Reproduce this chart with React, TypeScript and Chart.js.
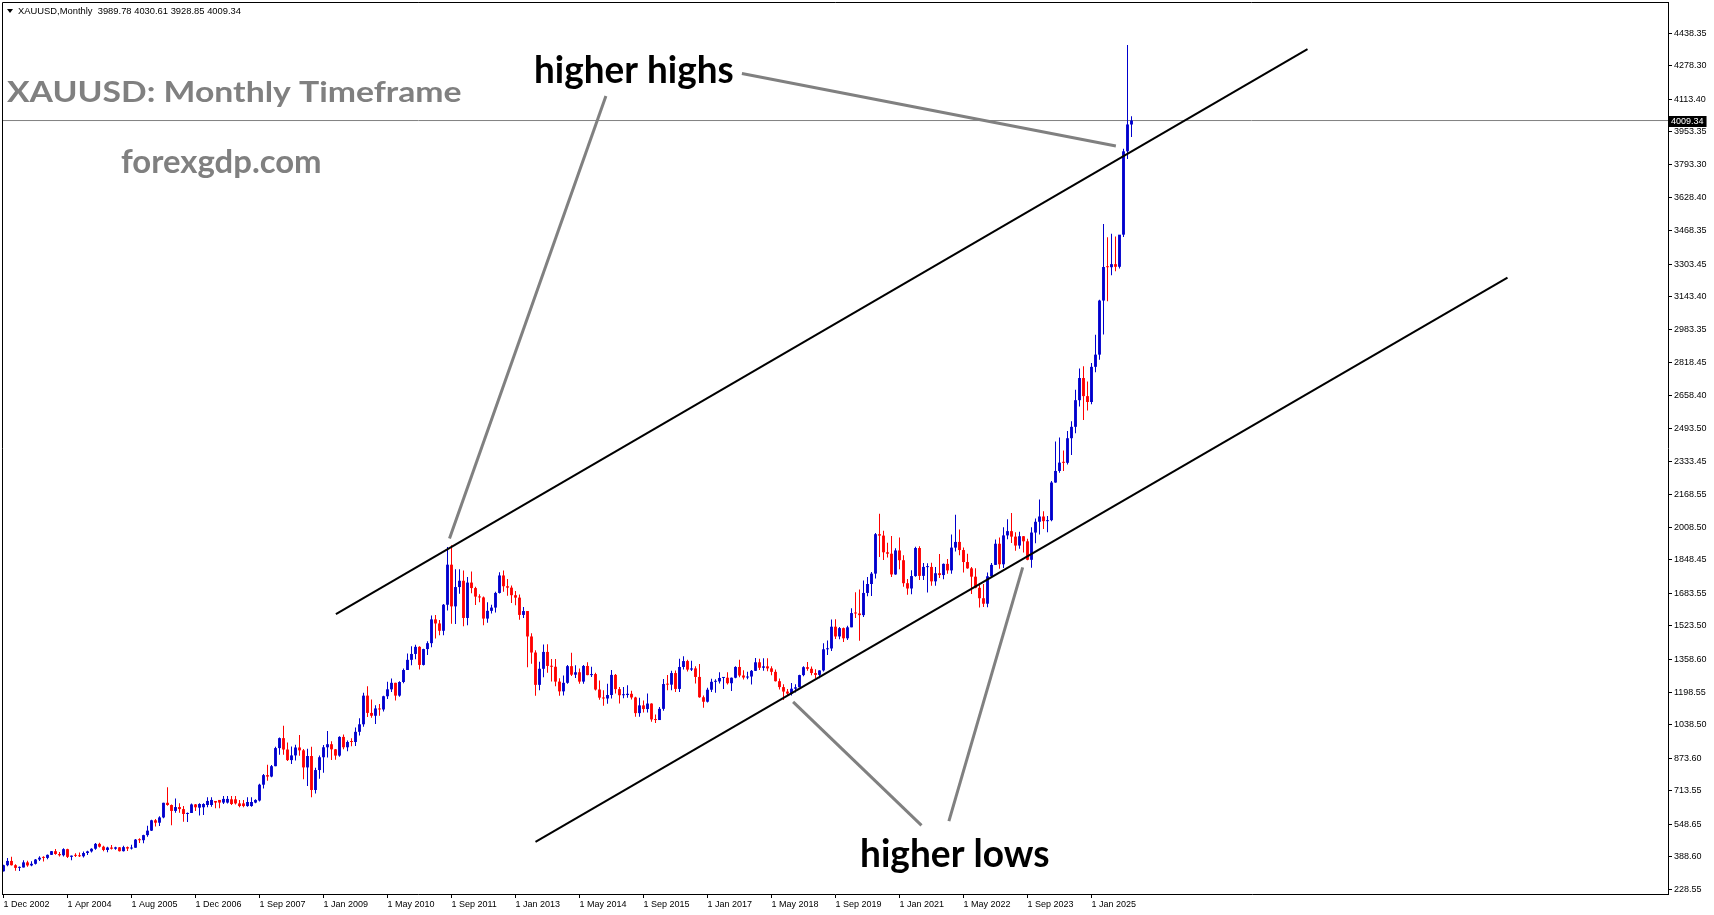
import React, { useEffect, useRef } from "react";
import { Chart, registerables } from "chart.js";

Chart.register(...registerables);

// ---- tick labels (one every 16 bars) ----
const xTickLabels = [
  "1 Dec 2002", "1 Apr 2004", "1 Aug 2005", "1 Dec 2006", "1 Sep 2007", "1 Jan 2009",
  "1 May 2010", "1 Sep 2011", "1 Jan 2013", "1 May 2014", "1 Sep 2015", "1 Jan 2017",
  "1 May 2018", "1 Sep 2019", "1 Jan 2021", "1 May 2022", "1 Sep 2023", "1 Jan 2025",
];
const barsPerLabel = 16;

const yTickValues = [
  228.55, 388.6, 548.65, 713.55, 873.6, 1038.5, 1198.55, 1358.6, 1523.5, 1683.55, 1848.45,
  2008.5, 2168.55, 2333.45, 2493.5, 2658.4, 2818.45, 2983.35, 3143.4, 3303.45, 3468.35,
  3628.4, 3793.3, 3953.35, 4113.4, 4278.3, 4438.35,
];

// ---- monthly candles (bar index 0 = Dec 2002) ----
const barOpen = [
  317, 347, 368, 347, 334, 336, 361, 346, 354, 375,
  386, 383, 398, 416, 402, 396, 426, 388, 395, 393,
  391, 407, 415, 428, 452, 438, 422, 434, 428, 435,
  416, 436, 429, 433, 473, 470, 495, 517, 568, 556,
  582, 654, 643, 614, 633, 623, 599, 604, 646, 630,
  632, 643, 643, 663, 668, 655, 655, 671, 671, 651,
  651, 638, 638, 655, 665, 743, 790, 783, 834, 923,
  972, 916, 864, 887, 926, 912, 828, 884, 717, 815,
  878, 927, 942, 917, 886, 978, 927, 955, 953, 1003,
  1040, 1181, 1096, 1082, 1118, 1113, 1178, 1212, 1244, 1181,
  1248, 1307, 1357, 1386, 1421, 1332, 1410, 1439, 1556, 1536,
  1500, 1628, 1825, 1620, 1715, 1746, 1563, 1737, 1710, 1668,
  1664, 1560, 1598, 1614, 1686, 1772, 1719, 1712, 1675, 1663,
  1578, 1597, 1472, 1393, 1234, 1313, 1396, 1327, 1323, 1250,
  1202, 1244, 1326, 1284, 1296, 1250, 1327, 1282, 1287, 1211,
  1171, 1167, 1184, 1283, 1213, 1183, 1184, 1190, 1172, 1095,
  1133, 1115, 1142, 1064, 1061, 1116, 1238, 1235, 1292, 1214,
  1322, 1351, 1309, 1315, 1273, 1173, 1151, 1210, 1249, 1251,
  1268, 1269, 1242, 1269, 1322, 1280, 1270, 1275, 1303, 1345,
  1318, 1325, 1315, 1298, 1252, 1223, 1201, 1191, 1215, 1222,
  1282, 1321, 1313, 1292, 1283, 1305, 1409, 1413, 1520, 1472,
  1513, 1463, 1517, 1587, 1585, 1577, 1686, 1730, 1781, 1975,
  1968, 1886, 1879, 1777, 1895, 1847, 1734, 1708, 1769, 1907,
  1770, 1813, 1814, 1743, 1783, 1774, 1829, 1797, 1909, 1937,
  1897, 1838, 1807, 1766, 1711, 1660, 1633, 1768, 1824, 1928,
  1827, 1969, 1990, 1963, 1919, 1965, 1940, 1849, 1983, 2036,
  2062, 2039, 2044, 2229, 2286, 2327, 2326, 2447, 2503, 2634,
  2743, 2654, 2625, 2798, 2858, 3124, 3289, 3288, 3303, 3290,
  3448, 3858, 3989.78,
];
const barHigh = [
  349, 383, 389, 352, 341, 371, 369, 367, 378, 391,
  391, 400, 417, 427, 412, 431, 428, 395, 406, 409,
  415, 418, 430, 456, 457, 443, 438, 446, 438, 436,
  443, 439, 448, 476, 480, 497, 541, 570, 574, 588,
  654, 730, 645, 675, 652, 638, 606, 650, 648, 652,
  652, 681, 681, 663, 668, 687, 687, 687, 687, 668,
  668, 681, 681, 672, 748, 795, 841, 840, 929, 975,
  1033, 950, 931, 940, 988, 919, 920, 930, 826, 887,
  938, 1007, 957, 918, 981, 990, 960, 971, 1024, 1070,
  1195, 1227, 1162, 1134, 1140, 1180, 1249, 1265, 1244, 1252,
  1314, 1388, 1424, 1431, 1424, 1411, 1448, 1575, 1577, 1553,
  1632, 1912, 1921, 1803, 1802, 1796, 1764, 1792, 1716, 1680,
  1669, 1640, 1628, 1692, 1788, 1796, 1755, 1723, 1695, 1678,
  1617, 1597, 1488, 1404, 1348, 1433, 1434, 1361, 1361, 1267,
  1280, 1332, 1392, 1331, 1315, 1332, 1345, 1323, 1293, 1255,
  1208, 1239, 1307, 1287, 1224, 1224, 1232, 1205, 1175, 1170,
  1157, 1191, 1143, 1088, 1125, 1263, 1283, 1303, 1304, 1362,
  1375, 1357, 1352, 1326, 1337, 1182, 1220, 1264, 1262, 1296,
  1270, 1296, 1270, 1326, 1357, 1306, 1299, 1307, 1366, 1362,
  1365, 1365, 1326, 1309, 1265, 1237, 1214, 1243, 1237, 1284,
  1326, 1347, 1324, 1311, 1306, 1439, 1452, 1555, 1557, 1518,
  1516, 1525, 1611, 1689, 1703, 1747, 1765, 1789, 1981, 2075,
  1992, 1933, 1966, 1906, 1959, 1871, 1755, 1798, 1913, 1916,
  1833, 1832, 1835, 1814, 1877, 1831, 1853, 1974, 2070, 1998,
  1910, 1879, 1814, 1808, 1735, 1730, 1786, 1833, 1949, 1959,
  2009, 2049, 2079, 1985, 1987, 1966, 1953, 2009, 2052, 2146,
  2088, 2065, 2236, 2431, 2450, 2387, 2483, 2531, 2685, 2790,
  2801, 2726, 2817, 2956, 3128, 3500, 3435, 3452, 3439, 3423,
  3870, 4381, 4030.61,
];
const barLow = [
  316, 342, 345, 320, 319, 336, 340, 342, 350, 368,
  365, 376, 397, 399, 390, 390, 382, 371, 387, 387,
  385, 397, 409, 423, 434, 416, 411, 424, 423, 414,
  414, 417, 424, 433, 456, 455, 487, 515, 538, 540,
  578, 640, 543, 605, 605, 561, 560, 604, 614, 591,
  594, 632, 635, 627, 627, 648, 651, 643, 646, 632,
  632, 635, 635, 652, 660, 724, 763, 779, 834, 890,
  890, 860, 845, 862, 885, 770, 736, 681, 700, 772,
  802, 877, 865, 866, 880, 917, 908, 932, 933, 985,
  1028, 1076, 1072, 1041, 1082, 1103, 1165, 1199, 1157, 1175,
  1242, 1307, 1330, 1360, 1309, 1329, 1381, 1419, 1462, 1478,
  1478, 1600, 1535, 1533, 1682, 1522, 1527, 1684, 1627, 1640,
  1527, 1540, 1585, 1590, 1683, 1692, 1672, 1636, 1626, 1554,
  1563, 1321, 1338, 1180, 1208, 1271, 1294, 1251, 1227, 1180,
  1182, 1239, 1277, 1268, 1240, 1240, 1281, 1273, 1206, 1161,
  1131, 1141, 1167, 1191, 1142, 1168, 1170, 1162, 1077, 1077,
  1098, 1098, 1053, 1046, 1061, 1107, 1208, 1207, 1199, 1199,
  1310, 1300, 1302, 1241, 1171, 1122, 1147, 1199, 1195, 1241,
  1214, 1236, 1204, 1267, 1271, 1260, 1261, 1236, 1302, 1307,
  1303, 1301, 1281, 1250, 1211, 1160, 1180, 1182, 1196, 1221,
  1276, 1303, 1281, 1266, 1266, 1300, 1381, 1400, 1459, 1458,
  1445, 1455, 1517, 1563, 1451, 1568, 1670, 1671, 1757, 1863,
  1848, 1860, 1764, 1776, 1802, 1717, 1677, 1679, 1766, 1750,
  1750, 1688, 1721, 1722, 1759, 1753, 1780, 1781, 1890, 1872,
  1787, 1805, 1681, 1709, 1615, 1617, 1616, 1765, 1823, 1805,
  1809, 1950, 1932, 1893, 1903, 1885, 1847, 1810, 1931, 1973,
  2001, 1984, 2039, 2228, 2277, 2286, 2318, 2364, 2471, 2603,
  2536, 2583, 2614, 2772, 2833, 2957, 3121, 3248, 3268, 3282,
  3436, 3820, 3928.85,
];
const barClose = [
  347, 368, 347, 334, 336, 361, 346, 354, 375, 384,
  383, 398, 416, 402, 396, 426, 388, 394, 393, 391,
  407, 415, 428, 452, 438, 422, 434, 428, 435, 416,
  436, 429, 433, 473, 470, 495, 517, 568, 556, 582,
  654, 643, 614, 633, 623, 599, 604, 646, 632, 648,
  648, 663, 668, 655, 655, 673, 673, 648, 651, 638,
  638, 658, 658, 668, 743, 790, 783, 834, 923, 972,
  916, 864, 887, 926, 912, 828, 884, 717, 815, 878,
  927, 942, 917, 886, 978, 927, 953, 953, 1003, 1040,
  1181, 1096, 1082, 1118, 1113, 1178, 1212, 1244, 1181, 1248,
  1307, 1357, 1386, 1421, 1332, 1410, 1439, 1556, 1536, 1500,
  1628, 1825, 1620, 1715, 1746, 1563, 1737, 1710, 1668, 1664,
  1560, 1598, 1614, 1686, 1772, 1719, 1712, 1675, 1663, 1578,
  1597, 1472, 1393, 1234, 1313, 1396, 1327, 1323, 1250, 1202,
  1244, 1326, 1284, 1296, 1250, 1327, 1282, 1287, 1211, 1171,
  1167, 1184, 1283, 1213, 1183, 1184, 1190, 1172, 1095, 1133,
  1115, 1142, 1064, 1061, 1116, 1238, 1235, 1292, 1214, 1322,
  1351, 1309, 1315, 1273, 1173, 1151, 1210, 1249, 1251, 1268,
  1269, 1242, 1269, 1322, 1280, 1270, 1275, 1303, 1345, 1318,
  1325, 1315, 1298, 1252, 1223, 1201, 1191, 1215, 1222, 1282,
  1321, 1313, 1292, 1283, 1305, 1409, 1413, 1520, 1472, 1513,
  1463, 1517, 1587, 1585, 1577, 1686, 1730, 1781, 1975, 1968,
  1886, 1879, 1777, 1895, 1847, 1734, 1708, 1769, 1907, 1770,
  1814, 1815, 1743, 1783, 1774, 1829, 1797, 1909, 1937, 1897,
  1838, 1807, 1766, 1711, 1660, 1633, 1768, 1824, 1928, 1827,
  1969, 1990, 1963, 1919, 1965, 1940, 1849, 1983, 2036, 2062,
  2039, 2044, 2229, 2286, 2327, 2326, 2447, 2503, 2634, 2743,
  2654, 2625, 2798, 2858, 3124, 3289, 3288, 3303, 3290, 3448,
  3858, 3990, 4009.34,
];

// ---- drawn objects (bar index, price) ----
const upperChannel = [{ x: 83.1, y: 1582 }, { x: 326.0, y: 4360 }];
const lowerChannel = [{ x: 133.0, y: 462 }, { x: 376.0, y: 3237 }];
const highsPointerRight = [{ x: 184.6, y: 4241 }, { x: 278.1, y: 3884 }];
const highsPointerLeft = [{ x: 150.6, y: 4130 }, { x: 111.5, y: 1954 }];
const lowsPointerLeft = [{ x: 197.4, y: 1150 }, { x: 229.5, y: 543 }];
const lowsPointerRight = [{ x: 254.8, y: 1812 }, { x: 236.35, y: 564 }];
const lastPrice = 4009.34;

const headerText = "XAUUSD,Monthly  3989.78 4030.61 3928.85 4009.34";
const titleText = "XAUUSD: Monthly Timeframe";
const siteText = "forexgdp.com";
const highsText = "higher highs";
const lowsText = "higher lows";

const BULL = "#0000CD";
const BEAR = "#FF0000";
const GRAY = "#808080";
const X_MIN = -0.375;
const X_MAX = 416.125;
const Y_MIN = 205.43;
const Y_MAX = 4592.3;
const SMALL_FONT = "9px 'Liberation Sans', Arial, sans-serif";

function fitText(
  ctx: CanvasRenderingContext2D,
  text: string,
  left: number,
  baseline: number,
  width: number,
  font: string,
  color: string
) {
  ctx.save();
  ctx.font = font;
  ctx.fillStyle = color;
  ctx.textAlign = "left";
  ctx.textBaseline = "alphabetic";
  const m = ctx.measureText(text);
  const ink = m.actualBoundingBoxLeft + m.actualBoundingBoxRight;
  const s = ink > 0 ? width / ink : 1;
  ctx.translate(left, baseline);
  ctx.scale(s, 1);
  ctx.fillText(text, m.actualBoundingBoxLeft, 0);
  ctx.restore();
}

const overlayPlugin = {
  id: "overlay",
  afterDraw(chart: any) {
    const ctx: CanvasRenderingContext2D = chart.ctx;
    const area = chart.chartArea;
    const yScale = chart.scales.y;
    ctx.save();
    // frame left & top
    ctx.strokeStyle = "#000";
    ctx.lineWidth = 1;
    ctx.beginPath();
    ctx.moveTo(area.left + 0.5, area.bottom);
    ctx.lineTo(area.left + 0.5, area.top + 0.5);
    ctx.lineTo(area.right, area.top + 0.5);
    ctx.stroke();

    // header
    ctx.fillStyle = "#000";
    ctx.beginPath();
    ctx.moveTo(7, 9);
    ctx.lineTo(13, 9);
    ctx.lineTo(10, 13);
    ctx.closePath();
    ctx.fill();
    fitText(ctx, headerText, 18, 14, 223, SMALL_FONT, "#000");

    // titles
    fitText(ctx, titleText, 7, 102, 454, "bold 29px Lato, 'Open Sans', sans-serif", GRAY);
    fitText(ctx, siteText, 121, 173, 199, "bold 33px Lato, 'Open Sans', sans-serif", GRAY);
    fitText(ctx, highsText, 536, 83, 197, "bold 38px Lato, 'Open Sans', sans-serif", "#000");
    fitText(ctx, lowsText, 862, 867, 187, "bold 37.5px Lato, 'Open Sans', sans-serif", "#000");

    // last price box on the axis
    const py = Math.round(yScale.getPixelForValue(lastPrice));
    ctx.font = SMALL_FONT;
    const label = lastPrice.toFixed(2);
    const tw = ctx.measureText(label).width;
    ctx.fillStyle = "#000";
    ctx.fillRect(area.right + 1, py - 5, tw + 5, 11);
    ctx.fillStyle = "#fff";
    ctx.textAlign = "left";
    ctx.textBaseline = "middle";
    ctx.fillText(label, area.right + 3, py + 0.5);
    ctx.restore();
  },
};

export default function App() {
  const canvasRef = useRef<HTMLCanvasElement>(null);

  useEffect(() => {
    document.body.style.margin = "0";
    const canvas = canvasRef.current;
    if (!canvas) return;

    const n = barClose.length;
    const wickData = [] as any[];
    const bodyData = [] as any[];
    const colors: string[] = [];
    for (let i = 0; i < n; i++) {
      wickData.push({ x: i, y: [barLow[i], barHigh[i]] });
      bodyData.push({ x: i, y: [barOpen[i], barClose[i]] });
      colors.push(barClose[i] >= barOpen[i] ? BULL : BEAR);
    }

    const lineDs = (data: any[], color: string, width: number, order: number) => ({
      type: "line" as const,
      data,
      borderColor: color,
      borderWidth: width,
      pointRadius: 0,
      tension: 0,
      fill: false,
      order,
    });

    const chart = new Chart(canvas, {
      type: "bar",
      data: {
        datasets: [
          lineDs([{ x: X_MIN, y: lastPrice }, { x: X_MAX, y: lastPrice }], GRAY, 1, 5),
          {
            type: "bar",
            data: wickData,
            backgroundColor: colors,
            borderWidth: 0,
            grouped: false,
            maxBarThickness: 1,
            inflateAmount: 0,
            order: 4,
          } as any,
          {
            type: "bar",
            data: bodyData,
            backgroundColor: colors,
            borderWidth: 0,
            grouped: false,
            maxBarThickness: 3,
            minBarLength: 1,
            inflateAmount: 0,
            order: 3,
          } as any,
          lineDs(upperChannel, "#000", 2, 1),
          lineDs(lowerChannel, "#000", 2, 1),
          lineDs(highsPointerRight, GRAY, 3, 0),
          lineDs(highsPointerLeft, GRAY, 3, 0),
          lineDs(lowsPointerLeft, GRAY, 3, 0),
          lineDs(lowsPointerRight, GRAY, 3, 0),
        ],
      },
      options: {
        responsive: false,
        devicePixelRatio: 1,
        animation: false,
        events: [],
        layout: { padding: { left: 2, top: 2, right: 0, bottom: 0 } },
        plugins: { legend: { display: false }, tooltip: { enabled: false } },
        scales: {
          x: {
            type: "linear",
            min: X_MIN,
            max: X_MAX,
            offset: false,
            afterBuildTicks: (scale: any) => {
              scale.ticks = xTickLabels.map((_, i) => ({ value: i * barsPerLabel }));
            },
            afterFit: (scale: any) => {
              scale.height = 21;
              scale.paddingLeft = 0;
              scale.paddingRight = 0;
            },
            grid: {
              display: true,
              drawOnChartArea: false,
              drawTicks: true,
              tickLength: 4,
              color: "#000",
              offset: false,
            },
            border: { display: true, color: "#000", width: 1 },
            ticks: {
              autoSkip: false,
              maxRotation: 0,
              minRotation: 0,
              align: "start",
              padding: 1,
              color: "#000",
              font: { family: "'Liberation Sans', Arial, sans-serif", size: 9 },
              callback: (_v: any, index: number) => xTickLabels[index] ?? "",
            },
          },
          y: {
            type: "linear",
            position: "right",
            min: Y_MIN,
            max: Y_MAX,
            afterBuildTicks: (scale: any) => {
              scale.ticks = yTickValues.map((v) => ({ value: v }));
            },
            afterFit: (scale: any) => {
              scale.width = 46;
              scale.paddingTop = 0;
              scale.paddingBottom = 0;
            },
            grid: {
              display: true,
              drawOnChartArea: false,
              drawTicks: true,
              tickLength: 4,
              color: "#000",
            },
            border: { display: true, color: "#000", width: 1 },
            ticks: {
              autoSkip: false,
              padding: 2,
              color: "#000",
              font: { family: "'Liberation Sans', Arial, sans-serif", size: 9 },
              callback: (v: any) => Number(v).toFixed(2),
            },
          },
        },
      } as any,
      plugins: [overlayPlugin],
    });

    return () => chart.destroy();
  }, []);

  return (
    <div style={{ position: "fixed", left: 0, top: 0, width: 1714, height: 915, background: "#fff" }}>
      <canvas ref={canvasRef} width={1714} height={915} style={{ width: 1714, height: 915, display: "block" }} />
    </div>
  );
}
